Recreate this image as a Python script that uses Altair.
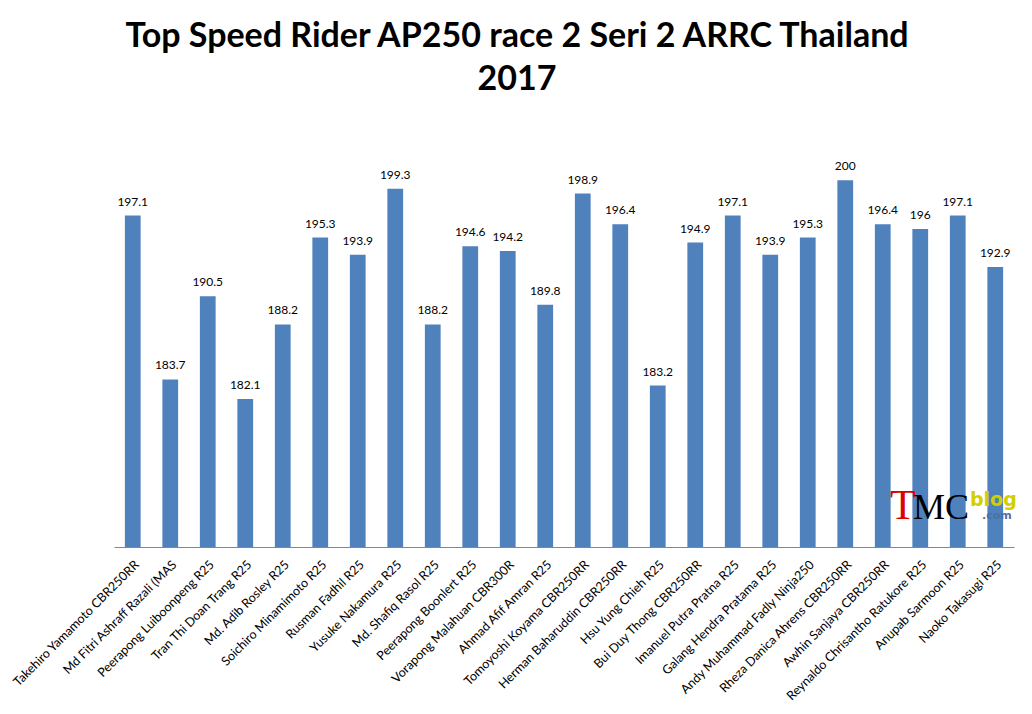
import altair as alt
import pandas as pd

riders = [
    "Takehiro Yamamoto  CBR250RR",
    "Md Fitri Ashraff Razali (MAS",
    "Peerapong Luiboonpeng R25",
    "Tran Thi  Doan Trang  R25",
    "Md. Adib Rosley R25",
    "Soichiro Minamimoto  R25",
    "Rusman  Fadhil R25",
    "Yusuke Nakamura  R25",
    "Md. Shafiq Rasol R25",
    "Peerapong Boonlert R25",
    "Vorapong Malahuan  CBR300R",
    "Ahmad Afif Amran R25",
    "Tomoyoshi Koyama CBR250RR",
    "Herman  Baharuddin CBR250RR",
    "Hsu Yung Chieh R25",
    "Bui Duy Thong CBR250RR",
    "Imanuel Putra Pratna R25",
    "Galang  Hendra Pratama R25",
    "Andy Muhammad  Fadly Ninja250",
    "Rheza Danica Ahrens CBR250RR",
    "Awhin Sanjaya  CBR250RR",
    "Reynaldo Chrisantho Ratukore R25",
    "Anupab Sarmoon R25",
    "Naoko Takasugi R25",
]
speeds = [197.1, 183.7, 190.5, 182.1, 188.2, 195.3, 193.9, 199.3, 188.2, 194.6,
          194.2, 189.8, 198.9, 196.4, 183.2, 194.9, 197.1, 193.9, 195.3, 200,
          196.4, 196, 197.1, 192.9]
y_min, y_max = 170, 205

logo_parts = ["T", "MC", "blog", ".com"]
logo_colors = ["#e00000", "#000000", "#d2cf00", "#4a6fa8"]

df = pd.DataFrame({"rider": riders, "speed": speeds})
df["label"] = [("%g" % v) for v in speeds]

FONT = "Lato"

x_enc = alt.X("rider:N", sort=None, title=None,
              scale=alt.Scale(paddingInner=0.58, paddingOuter=0.29),
              axis=alt.Axis(labelAngle=-45, labelFontSize=12.5, labelFont=FONT,
                            labelColor="#000000", ticks=False, domainColor="#868686",
                            domainWidth=1, labelPadding=11, labelLimit=300,
                            labelOverlap=False, labelAlign="right", labelBaseline="top"))
y_enc = alt.Y("speed:Q", title=None, axis=None,
              scale=alt.Scale(domain=[y_min, y_max], zero=False, nice=False))

bars = alt.Chart(df).mark_bar(color="#4F81BD").encode(
    x=x_enc, y=y_enc, y2=alt.datum(y_min)
)
labels = alt.Chart(df).mark_text(dy=-14, fontSize=12, font=FONT, color="#000000").encode(
    x=alt.X("rider:N", sort=None), y=alt.Y("speed:Q"), text="label:N"
)

logo_df = pd.DataFrame({"part": logo_parts, "color": logo_colors})


def logo_text(i, size, x, y, font, weight="normal"):
    return alt.Chart(logo_df.iloc[[i]]).mark_text(
        align="left", baseline="alphabetic", fontSize=size, font=font,
        fontWeight=weight, color=logo_colors[i]
    ).encode(text="part:N", x=alt.value(x), y=alt.value(y))


logo = alt.layer(
    logo_text(0, 42, 776, 400, "Liberation Serif"),
    logo_text(1, 36, 799, 400, "Liberation Serif"),
    logo_text(2, 19, 856, 387, "DejaVu Sans", "bold"),
    logo_text(3, 11, 868, 400, "DejaVu Sans", "bold"),
)

chart = alt.layer(bars, labels, logo).properties(
    width=900, height=428,
    autosize=alt.AutoSizeParams(type="none"),
    padding={"left": 106, "top": 111, "right": 10, "bottom": 165},
    title=alt.Title(["Top Speed Rider AP250 race 2 Seri 2 ARRC Thailand", "2017"],
                    fontSize=34, font=FONT, fontWeight="bold", color="#000000",
                    anchor="middle", dx=-47, offset=22, lineHeight=43),
).configure_view(stroke=None)

chart.save("out.html", embed_options={"renderer": "svg", "actions": False})
